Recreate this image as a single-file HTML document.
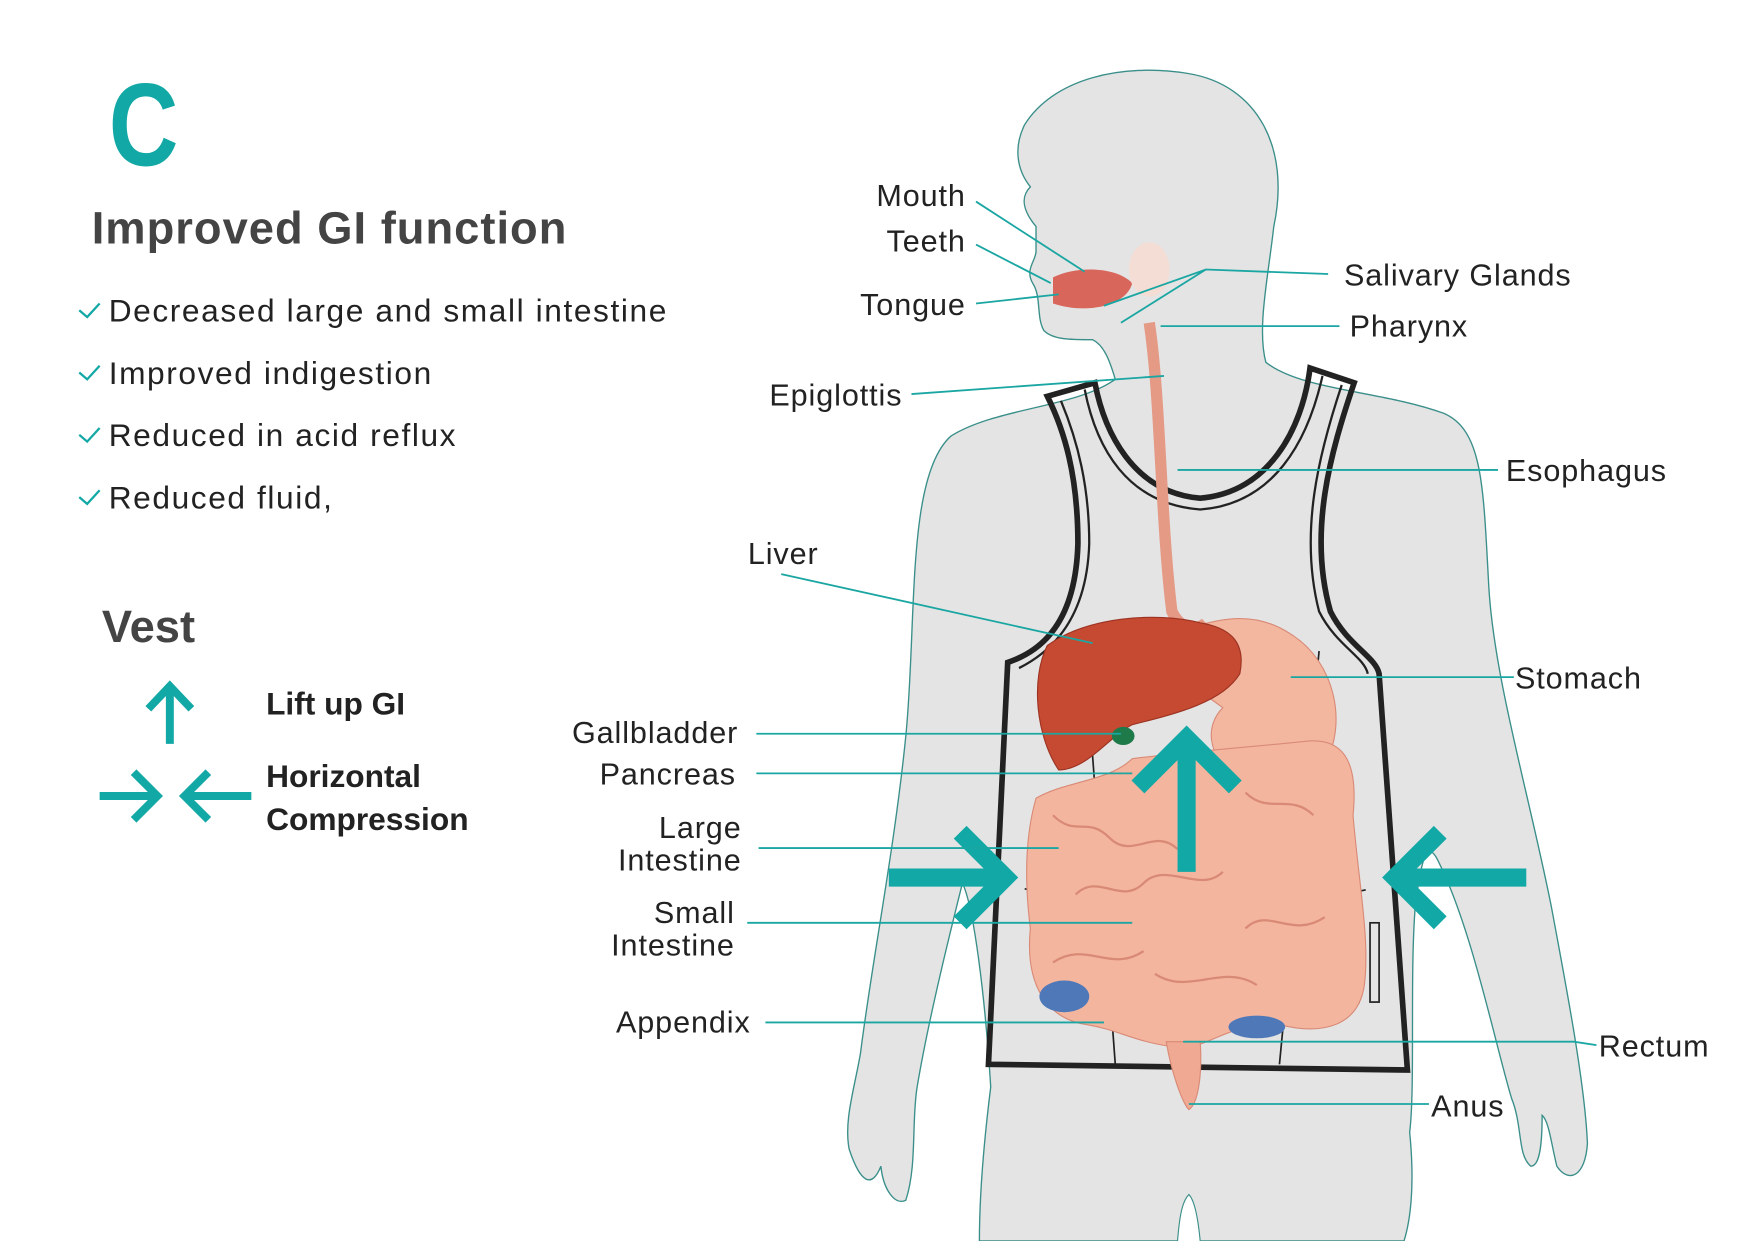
<!DOCTYPE html>
<html><head><meta charset="utf-8"><style>html,body{margin:0;padding:0;background:#fff}svg{display:block}</style></head><body>
<svg width="1755" height="1241" viewBox="0 0 1550 1096" xmlns="http://www.w3.org/2000/svg" font-family="Liberation Sans, sans-serif">
<rect width="1550" height="1096" fill="#fff"/>
<!-- left text -->
<text x="0" y="146" font-size="104" font-weight="bold" fill="#12a8a5" transform="translate(96 0) scale(0.82 1)">C</text>
<text x="81" y="215" font-size="40" font-weight="bold" fill="#444" letter-spacing="0.9">Improved GI function</text>
<g font-size="28" fill="#222" letter-spacing="1.4">
<text x="96" y="284">Decreased large and small intestine</text>
<text x="96" y="339">Improved indigestion</text>
<text x="96" y="394">Reduced in acid reflux</text>
<text x="96" y="449">Reduced fluid,</text>
</g>
<g stroke="#12a8a5" stroke-width="2" fill="none">
<path d="M70 274l7 6 11-12"/><path d="M70 329l7 6 11-12"/><path d="M70 384l7 6 11-12"/><path d="M70 439l7 6 11-12"/>
</g>
<text x="90" y="567" font-size="40" font-weight="bold" fill="#444">Vest</text>
<g stroke="#12a8a5" stroke-width="7" fill="none">
<path d="M150 657V606M131 626l19-20 19 20"/>
<path d="M88 703H138M118 682l21 21-21 21"/>
<path d="M222 703H164M184 682l-21 21 21 21"/>
</g>
<text x="235" y="631" font-size="28" font-weight="bold" fill="#222">Lift up GI</text>
<text x="235" y="695" font-size="28" font-weight="bold" fill="#222">Horizontal</text>
<text x="235" y="733" font-size="28" font-weight="bold" fill="#222">Compression</text>
<!-- body -->
<path d="M985 335 C980 318 975 305 965 300 C945 300 930 300 922 292 C915 280 920 262 912 250 C905 238 915 230 915 222 L915 200 C905 188 900 175 910 165 C898 150 895 130 905 110 C930 70 990 55 1050 65 C1110 75 1140 130 1125 200 C1120 245 1110 290 1118 320 C1150 345 1220 345 1275 365 C1310 380 1310 430 1315 520 C1320 600 1350 700 1370 800 C1385 880 1400 960 1402 1010 C1400 1040 1385 1045 1375 1030 C1370 1010 1368 990 1362 985 C1362 1010 1360 1030 1352 1030 C1340 1020 1345 995 1335 970 C1320 920 1300 820 1270 760 C1260 740 1255 760 1250 800 C1245 860 1250 960 1245 1000 C1250 1050 1245 1080 1240 1096 L865 1096 C865 1050 870 1000 875 960 C870 880 860 800 850 780 C840 820 820 900 810 960 C805 990 810 1030 800 1060 C790 1065 780 1050 778 1030 C770 1050 760 1045 750 1015 C745 990 755 960 760 930 C770 850 790 750 800 650 C810 550 800 420 840 385 C880 360 950 360 985 335 Z" fill="#e4e4e4" stroke="#3a8f8a" stroke-width="1.2"/>
<path d="M1040 1096 C1042 1070 1045 1060 1050 1055 C1055 1060 1058 1075 1060 1096" fill="#fff" stroke="#3a8f8a" stroke-width="1"/>
<!-- vest -->
<g fill="none" stroke="#222">
<path d="M925 350 L967 338 C975 380 1000 435 1060 440 C1120 435 1150 380 1157 325 L1196 338 C1175 400 1155 470 1175 540 C1190 570 1215 580 1218 595 L1243 945 L873 940 L890 585 C920 575 950 550 952 480 C952 420 940 380 925 350 Z" stroke-width="5"/>
<path d="M937 354 C952 390 962 430 962 480 C960 545 930 575 900 590" stroke-width="2"/>
<path d="M958 344 C968 395 995 445 1060 450 C1125 445 1155 390 1168 332" stroke-width="2"/>
<path d="M1185 340 C1165 400 1147 470 1165 540 C1180 570 1205 580 1208 595" stroke-width="2"/>
<path d="M960 600 L985 940 M1165 575 L1130 940" stroke-width="1.5"/>
<path d="M905 785 C960 795 1150 800 1210 785" stroke-width="1.5" stroke-dasharray="5 4"/>
<path d="M990 812 H1195 L1205 825 L1200 885 H990 Z" stroke-width="2"/>
<rect x="1210" y="815" width="8" height="70" stroke-width="1.5"/>
</g>
<!-- organs -->
<path d="M1015 285 C1025 350 1025 460 1035 540 C1045 560 1060 555 1065 550" fill="none" stroke="#e59a86" stroke-width="10"/>
<path d="M1050 555 C1080 545 1110 540 1140 560 C1180 585 1190 640 1170 675 C1150 700 1110 700 1090 685 C1065 665 1065 640 1080 625 C1060 610 1040 600 1040 580 Z" fill="#f3b7a0" stroke="#d98a76"/>
<path d="M925 570 C960 545 1020 540 1060 550 C1090 555 1100 570 1095 595 C1080 620 1040 630 1000 640 C980 650 960 680 935 680 C915 650 910 600 925 570 Z" fill="#c64a32" stroke="#9c3322"/>
<ellipse cx="992" cy="650" rx="10" ry="8" fill="#1f7a4a"/>
<path d="M915 705 C940 690 980 690 1000 670 C1040 665 1100 660 1150 655 C1185 650 1200 670 1195 720 C1200 780 1210 830 1205 870 C1200 905 1170 915 1130 905 C1090 900 1060 930 1040 925 C1000 920 990 910 960 905 C925 900 905 870 910 820 C905 780 905 740 915 705 Z" fill="#f4b59f" stroke="#d98a76"/>
<g fill="none" stroke="#d98a76" stroke-width="2">
<path d="M930 720 C950 740 960 720 980 740 C1000 760 1020 730 1040 750 M950 790 C970 770 990 800 1010 780 C1030 760 1060 790 1080 770 M930 850 C960 830 980 860 1010 840 M1100 700 C1120 720 1140 700 1160 720 M1100 820 C1120 800 1140 830 1170 810 M1020 860 C1050 880 1080 850 1110 870"/>
</g>
<path d="M1030 920 C1035 950 1045 975 1050 980 C1058 975 1062 950 1060 920 Z" fill="#f0a992" stroke="#d98a76"/>
<ellipse cx="940" cy="880" rx="22" ry="14" fill="#4e78b8"/>
<ellipse cx="1110" cy="907" rx="25" ry="10" fill="#4e78b8"/>
<path d="M930 245 C950 235 985 235 1000 250 C995 270 960 278 930 268 Z" fill="#d8665a"/>
<ellipse cx="1015" cy="238" rx="18" ry="24" fill="#f3ddd5"/>
<!-- big arrows -->
<g stroke="#12a8a5" stroke-width="16" fill="none">
<path d="M1048 770 V660 M1005 695 L1048 652 L1091 695"/>
<path d="M785 775 H880 M848 735 L888 775 L848 815"/>
<path d="M1348 775 H1238 M1272 735 L1232 775 L1272 815"/>
</g>
<!-- leader lines -->
<g stroke="#1aa6a2" stroke-width="1.6" fill="none">
<path d="M862 178 L958 240"/><path d="M862 216 L928 250"/><path d="M862 268 L935 260"/>
<path d="M1173 242 L1065 238 L975 270 M1065 238 L990 285"/>
<path d="M1183 288 H1025"/><path d="M805 348 L1028 332"/><path d="M1323 415 H1040"/>
<path d="M690 507 L965 568"/><path d="M1337 598 H1140"/>
<path d="M668 648 H990"/><path d="M668 683 H1000"/><path d="M670 749 H935"/>
<path d="M660 815 H1000"/><path d="M676 903 H975"/>
<path d="M1410 923 L1390 920 H1045"/><path d="M1262 975 H1050"/>
</g>
<g font-size="27" fill="#222" letter-spacing="0.8">
<text x="853" y="182" text-anchor="end">Mouth</text>
<text x="853" y="222" text-anchor="end">Teeth</text>
<text x="853" y="278" text-anchor="end">Tongue</text>
<text x="1187" y="252">Salivary Glands</text>
<text x="1192" y="297">Pharynx</text>
<text x="797" y="358" text-anchor="end">Epiglottis</text>
<text x="1330" y="425">Esophagus</text>
<text x="723" y="498" text-anchor="end">Liver</text>
<text x="1338" y="608">Stomach</text>
<text x="652" y="656" text-anchor="end">Gallbladder</text>
<text x="650" y="693" text-anchor="end">Pancreas</text>
<text x="655" y="740" text-anchor="end">Large</text>
<text x="655" y="769" text-anchor="end">Intestine</text>
<text x="649" y="815" text-anchor="end">Small</text>
<text x="649" y="844" text-anchor="end">Intestine</text>
<text x="663" y="912" text-anchor="end">Appendix</text>
<text x="1412" y="933">Rectum</text>
<text x="1264" y="986">Anus</text>
</g>
</svg>
</body></html>
